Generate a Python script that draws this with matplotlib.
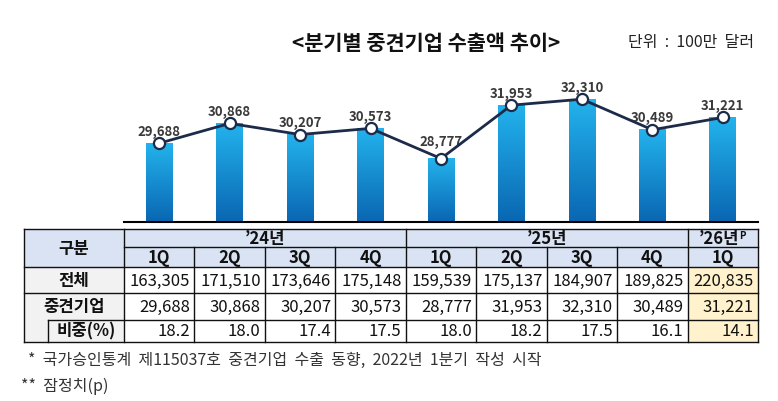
import numpy as np
import matplotlib
matplotlib.use("Agg")
import matplotlib.pyplot as plt
from matplotlib.patches import Rectangle
from matplotlib.colors import LinearSegmentedColormap

plt.rcParams['font.family'] = ['Noto Sans CJK KR', 'DejaVu Sans']

# data
quarters = ['1Q', '2Q', '3Q', '4Q', '1Q', '2Q', '3Q', '4Q', '1Q']
years = ['’24년', '’25년', '’26년']
year_span = [4, 4, 1]
total = [163305, 171510, 173646, 175148, 159539, 175137, 184907, 189825, 220835]
midsize = [29688, 30868, 30207, 30573, 28777, 31953, 32310, 30489, 31221]
share = [18.2, 18.0, 17.4, 17.5, 18.0, 18.2, 17.5, 16.1, 14.1]
row_labels = ['전체', '중견기업', '비중(%)']

W, H = 778, 402
fig = plt.figure(figsize=(W / 100, H / 100), dpi=100)


def px(x0, y0, x1, y1):
    return [x0 / W, 1 - y1 / H, (x1 - x0) / W, (y1 - y0) / H]


# 막대 + 꺾은선
ax = fig.add_axes(px(124, 55, 758, 223))
x = np.arange(len(midsize))
ymin, ymax = 25000, 35000
bars = ax.bar(x, midsize, width=0.38, color='#1793d6', zorder=1)
cmap = LinearSegmentedColormap.from_list('grad', ['#0a66b2', '#23b3ed'])
grad = np.linspace(0, 1, 256).reshape(-1, 1)
for b in bars:
    ax.imshow(grad, cmap=cmap, origin='lower', aspect='auto', zorder=1.5,
              extent=[b.get_x(), b.get_x() + b.get_width(), ymin, b.get_height()])
ax.plot(x, midsize, color='#1c2b4a', lw=2, marker='o', ms=8, mfc='white',
        mec='#1c2b4a', mew=1.6, zorder=4, clip_on=False)
for i, v in enumerate(midsize):
    dy = 9.5 if i == 4 else 6
    ax.annotate(f'{v:,}', (i, v), xytext=(0, dy), textcoords='offset points',
                ha='center', va='baseline', fontsize=9.5, fontweight='bold',
                color='#3a3a3a')
ax.set_xlim(-0.5, len(midsize) - 0.5)
ax.set_ylim(ymin, ymax)
for s in ['top', 'left', 'right']:
    ax.spines[s].set_visible(False)
ax.spines['bottom'].set_linewidth(1.5)
ax.set_xticks([])
ax.set_yticks([])

fig.text(425.7 / W, 1 - 43.5 / H, '<분기별 중견기업 수출액 추이>', ha='center',
         va='center', fontsize=15, fontweight='bold', color='#111111')
fig.text(691 / W, 1 - 43 / H, '단위  :  100만  달러', ha='center', va='center',
         fontsize=11.5, color='#222222')

# 표
n = len(quarters)
xl = -0.5 - 100 / 70.44
xs = xl + 24 / 70.44
rows = [0, 17.7, 38.3, 64.3, 91, 113.3]
tax = fig.add_axes(px(24, 230, 758, 343))
tax.set_xlim(xl, n - 0.5)
tax.set_ylim(rows[-1], 0)
tax.axis('off')

blue, grey, yellow = '#dae3f3', '#f2f2f2', '#fff2cc'
tax.add_patch(Rectangle((xl, 0), n - 0.5 - xl, rows[2], fc=blue, lw=0))
tax.add_patch(Rectangle((xl, rows[2]), -0.5 - xl, rows[5] - rows[2], fc=grey, lw=0))
tax.add_patch(Rectangle((n - 1.5, rows[2]), 1, rows[5] - rows[2], fc=yellow, lw=0))

lc = dict(color='#111111', lw=1, clip_on=False)
for y, x0 in [(0, xl), (rows[1], -0.5), (rows[2], xl), (rows[3], xl), (rows[4], xs), (rows[5], xl)]:
    tax.plot([x0, n - 0.5], [y, y], **lc)
edges = np.cumsum([0] + year_span) - 0.5
for xv in [xl] + list(edges):
    tax.plot([xv, xv], [0, rows[5]], **lc)
for i in range(n - 1):
    if i + 0.5 not in edges:
        tax.plot([i + 0.5, i + 0.5], [rows[1], rows[5]], **lc)
tax.plot([xs, xs], [rows[4], rows[5]], **lc)

hdr = dict(ha='center', va='center', fontsize=12, fontweight='bold', color='#111111')
tax.text((xl - 0.5) / 2, rows[2] / 2, '구분', **hdr)
for k, yr in enumerate(years):
    xc = (edges[k] + edges[k + 1]) / 2
    if year_span[k] == 1:
        t = tax.text(xc - 0.06, (rows[0] + rows[1]) / 2 + 0.5, yr, **hdr)
        tax.annotate('P', xy=(1, 0.95), xycoords=t, ha='left', va='top',
                     fontsize=7, fontweight='bold', color='#111111')
    else:
        tax.text(xc, (rows[0] + rows[1]) / 2 + 0.5, yr, **hdr)
for i, q in enumerate(quarters):
    tax.text(i, (rows[1] + rows[2]) / 2, q, **hdr)

tax.text((xl - 0.5) / 2, (rows[2] + rows[3]) / 2, row_labels[0], **hdr)
tax.text((xl - 0.5) / 2, (rows[3] + rows[4]) / 2, row_labels[1], **hdr)
tax.text((xs - 0.5) / 2, (rows[4] + rows[5]) / 2, row_labels[2], **hdr)

cell = dict(ha='right', va='center', fontsize=12, color='#111111')
for i in range(n):
    tax.text(i + 0.44, (rows[2] + rows[3]) / 2, f'{total[i]:,}', **cell)
    tax.text(i + 0.44, (rows[3] + rows[4]) / 2, f'{midsize[i]:,}', **cell)
    tax.text(i + 0.44, (rows[4] + rows[5]) / 2, f'{share[i]:.1f}', **cell)

# 주석
fig.text(28 / W, 1 - 360 / H, '*  국가승인통계  제115037호  중견기업  수출  동향,  2022년  1분기  작성  시작',
         ha='left', va='center', fontsize=11.5, color='#333333')
fig.text(21 / W, 1 - 386 / H, '**  잠정치(p)', ha='left', va='center',
         fontsize=11.5, color='#333333')

fig.savefig('out.png', dpi=100)
